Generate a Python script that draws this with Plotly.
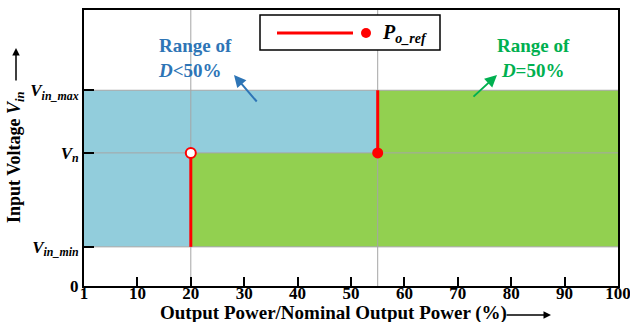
import plotly.graph_objects as go

# ---- data ----
x_ticks = [0, 10, 20, 30, 40, 50, 60, 70, 80, 90, 100]
x_tick_labels = ["1", "10", "20", "30", "40", "50", "60", "70", "80", "90", "100"]
v_levels = [0, 1.0, 3.4, 5.0]          # 0, Vin_min, Vn, Vin_max
v_labels = ["<b>0</b>",
            "<b><i>V</i><sub><i>in_min</i></sub></b>",
            "<b><i>V</i><sub><i>n</i></sub></b>",
            "<b><i>V</i><sub><i>in_max</i></sub></b>"]
p_ref = [20, 55]                        # P_o_ref points (% of nominal)
x_span = [0, 100]
y_top = 7.05

V0, Vmin, Vn, Vmax = v_levels
FONT = "Liberation Serif"
BLUE_FILL = "#92CDDC"
GREEN_FILL = "#92D050"
GRID = "#A6A6A6"
RED = "#FF0000"

fig = go.Figure()

# blue region (D<50%)
fig.add_trace(go.Scatter(
    x=[x_span[0], p_ref[1], p_ref[1], x_span[0], x_span[0]],
    y=[Vmin, Vmin, Vmax, Vmax, Vmin],
    fill="toself", fillcolor=BLUE_FILL, mode="lines", line=dict(width=0),
    hoverinfo="skip", showlegend=False))

# green region (D=50%)
fig.add_trace(go.Scatter(
    x=[p_ref[0], x_span[1], x_span[1], p_ref[1], p_ref[1], p_ref[0], p_ref[0]],
    y=[Vmin, Vmin, Vmax, Vmax, Vn, Vn, Vmin],
    fill="toself", fillcolor=GREEN_FILL, mode="lines", line=dict(width=0),
    hoverinfo="skip", showlegend=False))

# grid lines (drawn above fills, below red marks)
for v in v_levels[1:]:
    fig.add_trace(go.Scatter(x=x_span, y=[v, v], mode="lines",
                             line=dict(color=GRID, width=1),
                             hoverinfo="skip", showlegend=False))
for p in p_ref:
    fig.add_trace(go.Scatter(x=[p, p], y=[V0, y_top], mode="lines",
                             line=dict(color=GRID, width=1),
                             hoverinfo="skip", showlegend=False))

# red boundary lines
fig.add_trace(go.Scatter(x=[p_ref[0], p_ref[0]], y=[Vmin, Vn], mode="lines",
                         line=dict(color=RED, width=3), showlegend=False))
fig.add_trace(go.Scatter(x=[p_ref[1], p_ref[1]], y=[Vn, Vmax], mode="lines",
                         line=dict(color=RED, width=3), showlegend=False))
# markers
fig.add_trace(go.Scatter(x=[p_ref[0]], y=[Vn], mode="markers",
                         marker=dict(symbol="circle", size=10, color="white",
                                     line=dict(color=RED, width=2)),
                         showlegend=False))
fig.add_trace(go.Scatter(x=[p_ref[1]], y=[Vn], mode="markers",
                         marker=dict(symbol="circle", size=11, color=RED,
                                     line=dict(width=0)),
                         showlegend=False))

L, R, T, B = 84, 12, 10, 36
W, H = 630, 322
PW, PH = W - L - R, H - T - B


def px(x):
    return (x - L) / PW


def py(y):
    return (H - B - y) / PH


# custom legend box
fig.add_shape(type="rect", xref="paper", yref="paper",
              x0=px(260), x1=px(440), y0=py(50), y1=py(15),
              line=dict(color="black", width=1.5), fillcolor="white")
fig.add_shape(type="line", xref="paper", yref="paper",
              x0=px(277), x1=px(353), y0=py(33), y1=py(33),
              line=dict(color=RED, width=3))
fig.add_shape(type="circle", xref="paper", yref="paper",
              x0=px(361), x1=px(371), y0=py(38), y1=py(28),
              line=dict(color=RED, width=0), fillcolor=RED)
fig.add_annotation(xref="paper", yref="paper", x=px(380), y=py(33),
                   xanchor="left", yanchor="middle", showarrow=False,
                   text="<b><i>P</i><sub><i>o_ref</i></sub></b>",
                   font=dict(family=FONT, size=20, color="black"))

# region labels
fig.add_annotation(xref="paper", yref="paper", x=px(156), y=py(58),
                   xanchor="left", yanchor="middle", showarrow=False, align="left",
                   text="<b>Range of<br><i>D</i>&lt;50%</b>",
                   font=dict(family=FONT, size=19, color="#2E75B6"))
fig.add_annotation(xref="paper", yref="paper", x=px(533), y=py(58),
                   xanchor="center", yanchor="middle", showarrow=False, align="center",
                   text="<b>Range of<br><i>D</i>=50%</b>",
                   font=dict(family=FONT, size=19, color="#00B050"))

# region arrows
fig.add_annotation(xref="paper", yref="paper", x=px(234), y=py(75),
                   ax=24, ay=28, text="", showarrow=True,
                   arrowhead=2, arrowsize=1.2, arrowwidth=2, arrowcolor="#2E75B6")
fig.add_annotation(xref="paper", yref="paper", x=px(497), y=py(75),
                   ax=-25, ay=23, text="", showarrow=True,
                   arrowhead=2, arrowsize=1.2, arrowwidth=2, arrowcolor="#00B050")

# axis titles with arrows
fig.add_annotation(xref="paper", yref="paper", x=px(333), y=py(313),
                   xanchor="center", yanchor="middle", showarrow=False,
                   text="<b>Output Power/Nominal Output Power (%)</b>",
                   font=dict(family=FONT, size=19, color="black"))
fig.add_annotation(xref="paper", yref="paper", x=px(551), y=py(315),
                   ax=-46, ay=0, text="", showarrow=True,
                   arrowhead=2, arrowsize=1, arrowwidth=1.5, arrowcolor="black")
fig.add_annotation(xref="paper", yref="paper", x=px(16), y=py(157),
                   xanchor="center", yanchor="middle", showarrow=False, textangle=-90,
                   text="<b>Input Voltage <i>V</i><sub><i>in</i></sub></b>",
                   font=dict(family=FONT, size=18, color="black"))
fig.add_annotation(xref="paper", yref="paper", x=px(16), y=py(48),
                   ax=0, ay=34, text="", showarrow=True,
                   arrowhead=2, arrowsize=1, arrowwidth=1.5, arrowcolor="black")

fig.update_layout(
    width=W, height=H,
    margin=dict(l=L, r=R, t=T, b=B, autoexpand=False),
    paper_bgcolor="white", plot_bgcolor="white",
    showlegend=False,
    font=dict(family=FONT, color="black"),
)
fig.update_xaxes(range=x_span, tickvals=x_ticks,
                 ticktext=["<b>%s</b>" % t for t in x_tick_labels],
                 ticks="inside", ticklen=9, tickwidth=2, tickcolor="black",
                 showline=True, linewidth=2, linecolor="black", mirror=True,
                 showgrid=False, zeroline=False, ticklabelstandoff=-9,
                 ticklabeloverflow="allow", automargin=False,
                 tickfont=dict(family=FONT, size=17, color="black"))
fig.update_yaxes(range=[0, y_top], tickvals=v_levels, ticktext=v_labels,
                 ticks="inside", ticklen=10, tickwidth=2, tickcolor="black",
                 showline=True, linewidth=2, linecolor="black", mirror=True,
                 showgrid=False, zeroline=False, automargin=False,
                 tickfont=dict(family=FONT, size=17, color="black"))

fig.write_html("out.html")
